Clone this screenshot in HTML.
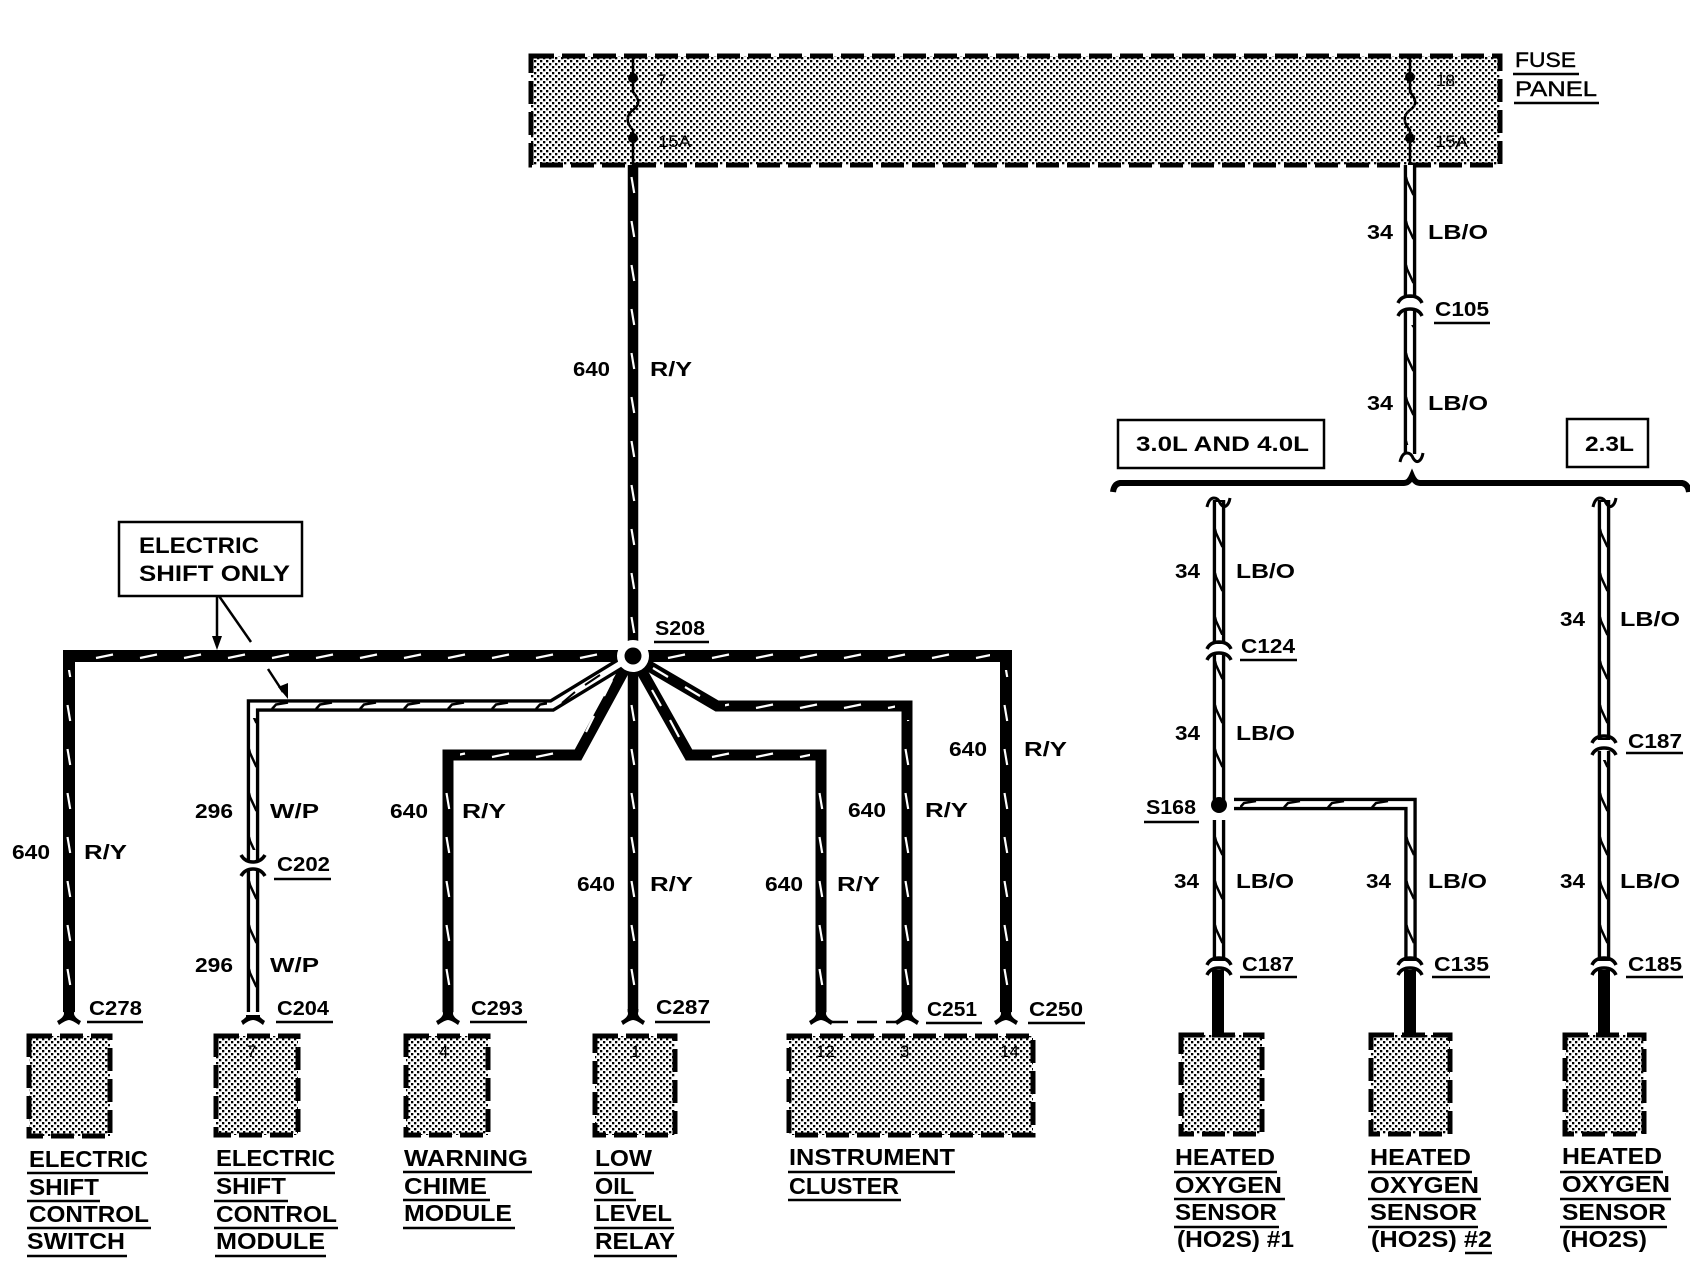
<!DOCTYPE html>
<html><head><meta charset="utf-8"><style>
html,body{margin:0;padding:0;background:#fff}
svg{display:block}
text{font-family:"Liberation Sans",sans-serif;fill:#000}
.l{font-size:23px;font-weight:bold}
.w{font-size:20px;font-weight:bold}
.f{font-size:21px;stroke:#000;stroke-width:.4}
.p{font-size:17px;fill:#222}
.b{fill:none;stroke:#000;stroke-linejoin:miter}
.bw{fill:none;stroke:#fff;stroke-linejoin:miter}
</style></head><body>
<svg width="1690" height="1264" viewBox="0 0 1690 1264" xmlns="http://www.w3.org/2000/svg">
<defs>
<pattern id="dots" width="6" height="6" patternUnits="userSpaceOnUse"><rect width="6" height="6" fill="#fff"/><rect width="2.3" height="2.3" fill="#000"/><rect x="3" y="3" width="2.3" height="2.3" fill="#000"/></pattern>
<pattern id="vb" x="-6" y="0" width="12" height="44" patternUnits="userSpaceOnUse"><line x1="4.5" y1="1" x2="7.2" y2="17" stroke="#fff" stroke-width="2.2"/></pattern>
<pattern id="vd" x="-6" y="0" width="12" height="44" patternUnits="userSpaceOnUse"><path d="M2,1 L3,5 L9.5,19" stroke="#000" stroke-width="2.5" fill="none"/></pattern>
<pattern id="hb" x="0" y="-6" width="44" height="12" patternUnits="userSpaceOnUse"><line x1="8" y1="8" x2="25" y2="4.5" stroke="#fff" stroke-width="2.2"/></pattern>
<pattern id="hd" x="0" y="-6" width="44" height="12" patternUnits="userSpaceOnUse"><path d="M8,9.5 L12,5 L24,3" stroke="#000" stroke-width="2.5" fill="none"/></pattern>
<path id="fork" d="M-5.5,-8 L-5,-3 Q-6,1 -12,4 L-10,8 Q-3,3 0,3 Q3,3 10,8 L12,4 Q6,1 5,-3 L5.5,-8Z" fill="#000"/>
<path id="arc" d="M-12,5 Q-9,-2 0,-2 Q9,-2 12,5" fill="none" stroke="#000" stroke-width="3.5"/>
<path id="tilde" d="M-11,9 Q-9,0 -4,0 Q0,0 2,5 Q5,10 8,8 Q11,6 12,0" fill="none" stroke="#000" stroke-width="3"/>
</defs>

<!-- shaded boxes -->
<g fill="url(#dots)" stroke="#000" stroke-width="5" stroke-dasharray="23 8">
<rect x="531" y="56" width="969" height="109"/>
<rect x="29" y="1036" width="81" height="100"/>
<rect x="216" y="1036" width="82" height="99"/>
<rect x="406" y="1036" width="82" height="99"/>
<rect x="595" y="1036" width="80" height="99"/>
<rect x="789" y="1036" width="244" height="99"/>
<rect x="1181" y="1035" width="81" height="99"/>
<rect x="1371" y="1035" width="79" height="99"/>
<rect x="1565" y="1035" width="79" height="99"/>
</g>

<!-- fuses -->
<g class="b" stroke-width="2.5">
<path d="M633,54 V92 C640,100 640,105 633,110 C626,115 626,123 633,130 V167"/>
<path d="M1410,54 V92 C1417,100 1417,105 1410,110 C1403,115 1403,123 1410,130 V167"/>
</g>
<g fill="#000"><circle cx="633" cy="78" r="5"/><circle cx="633" cy="138" r="5"/><circle cx="1410" cy="77" r="5"/><circle cx="1410" cy="138" r="5"/></g>
<g class="p">
<text x="657" y="86">7</text><text x="658" y="147" textLength="33" lengthAdjust="spacingAndGlyphs">15A</text>
<text x="1436" y="86" textLength="19" lengthAdjust="spacingAndGlyphs">18</text><text x="1435" y="147" textLength="33" lengthAdjust="spacingAndGlyphs">15A</text>
<text x="247" y="1057">7</text><text x="439" y="1057">4</text><text x="631" y="1057">1</text>
<text x="816" y="1057">12</text><text x="900" y="1057">3</text><text x="1000" y="1057">14</text>
</g>

<!-- black wires -->
<g class="b" stroke-width="12">
<path d="M69,1012 V656 H625"/>
<path d="M640,656 H1006 V1012" />
<path d="M448,1012 V755 H578 L627,665" stroke-width="11"/>
<path d="M633,165 V1012" stroke-width="10.5"/>
<path d="M821,1012 V755 H689 L640,668" stroke-width="11"/>
<path d="M907,1012 V706 H717 L642,662" stroke-width="11"/>
<path d="M1218,970 V1034"/><path d="M1410,970 V1034"/><path d="M1604,970 V1034"/>
</g>
<!-- diagonal ticks -->
<g fill="none" stroke="#fff" stroke-width="2.2">
<path d="M586,732 L594,716 M604,696 L612,680"/>
<path d="M679,737 L670,720 M661,706 L652,690"/>
<path d="M700,696 L685,687 M668,677 L653,668"/>
</g>
<!-- double wires -->
<g class="b" stroke-width="12.5">
<path d="M253,1012 V705.5 H552 L620,664"/>
<path d="M1410,165 V298 M1410,311 V454"/>
<path d="M1219,500 V644 M1219,655 V800 M1219,820 V961"/>
<path d="M1604,500 V740 M1604,751 V961"/>
<path d="M1234,804 H1410.5 V961"/>
</g>
<path d="M253,860 V870" stroke="#fff" stroke-width="14"/>
<g class="bw" stroke-width="5.8">
<path d="M253,1014 V705.5 H552 L620,664"/>
<path d="M1410,165 V296 M1410,311 V456"/>
<path d="M1219,502 V642 M1219,655 V800 M1219,820 V959"/>
<path d="M1604,502 V738 M1604,751 V959"/>
<path d="M1230,804 H1410.5 V959"/>
</g>
<path d="M253,862 V868" stroke="#fff" stroke-width="14"/>
<path d="M562,703 L575,692 M585,685 L600,675" stroke="#000" stroke-width="2" fill="none"/>

<!-- tick overlays: vertical black -->
<g fill="url(#vb)">
<rect transform="translate(633,0)" x="-5" y="170" width="10" height="465"/>
<rect transform="translate(633,0)" x="-5" y="685" width="10" height="320"/>
<rect transform="translate(69,0)" x="-5" y="670" width="10" height="335"/>
<rect transform="translate(448,0)" x="-5" y="770" width="10" height="235"/>
<rect transform="translate(821,0)" x="-5" y="770" width="10" height="235"/>
<rect transform="translate(907,0)" x="-5" y="720" width="10" height="285"/>
<rect transform="translate(1006,0)" x="-5" y="670" width="10" height="335"/>
</g>
<!-- tick overlays: vertical double -->
<g fill="url(#vd)">
<rect transform="translate(253,0)" x="-5" y="718" width="10" height="132"/>
<rect transform="translate(253,0)" x="-5" y="880" width="10" height="120"/>
<rect transform="translate(1410,0)" x="-5" y="170" width="10" height="120"/>
<rect transform="translate(1410,0)" x="-5" y="325" width="10" height="120"/>
<rect transform="translate(1219,0)" x="-5" y="510" width="10" height="125"/>
<rect transform="translate(1219,0)" x="-5" y="660" width="10" height="130"/>
<rect transform="translate(1219,0)" x="-5" y="825" width="10" height="125"/>
<rect transform="translate(1410.5,0)" x="-5" y="825" width="10" height="125"/>
<rect transform="translate(1604,0)" x="-5" y="510" width="10" height="220"/>
<rect transform="translate(1604,0)" x="-5" y="760" width="10" height="190"/>
</g>
<!-- tick overlays: horizontal -->
<g fill="url(#hb)">
<rect transform="translate(0,656)" x="90" y="-5" width="520" height="10"/>
<rect transform="translate(0,656)" x="660" y="-5" width="330" height="10"/>
<rect transform="translate(0,755)" x="460" y="-5" width="115" height="10"/>
<rect transform="translate(0,755)" x="695" y="-5" width="115" height="10"/>
<rect transform="translate(0,706)" x="725" y="-5" width="170" height="10"/>
</g>
<g fill="url(#hd)">
<rect transform="translate(0,705.5)" x="262" y="-5" width="285" height="10"/>
<rect transform="translate(0,804)" x="1240" y="-5" width="160" height="10"/>
</g>

<!-- hub + splice -->
<circle cx="633" cy="656" r="16" fill="#fff"/><circle cx="633" cy="656" r="8.5" fill="#000"/>
<circle cx="1219" cy="805" r="8" fill="#000"/>

<!-- forks -->
<use href="#fork" x="69" y="1017"/><use href="#fork" x="448" y="1017"/><use href="#fork" x="633" y="1017"/>
<use href="#fork" x="821" y="1017"/><use href="#fork" x="907" y="1017"/><use href="#fork" x="1006" y="1017"/>
<path d="M246,1015 H260 V1017 Q262,1019 265,1021 L263,1025 Q257,1020 253,1020 Q249,1020 243,1025 L241,1021 Q244,1019 246,1017Z" fill="#000"/>
<path d="M828,1022 H900" stroke="#000" stroke-width="2.5" stroke-dasharray="20 9" fill="none"/>

<!-- connectors -->
<use href="#arc" x="1410" y="298"/><use href="#arc" x="1410" y="311"/>
<use href="#arc" x="1219" y="644"/><use href="#arc" x="1219" y="655"/>
<use href="#arc" x="1604" y="738"/><use href="#arc" x="1604" y="750"/>
<path d="M241,855 Q245,862 253,862 Q261,862 265,855 M241,876 Q245,869 253,869 Q261,869 265,876" fill="none" stroke="#000" stroke-width="3.5"/>
<use href="#arc" x="1219" y="960"/><use href="#arc" x="1219" y="970"/>
<use href="#arc" x="1410" y="960"/><use href="#arc" x="1410" y="970"/>
<use href="#arc" x="1604" y="960"/><use href="#arc" x="1604" y="970"/>
<use href="#tilde" x="1411" y="453"/><use href="#tilde" x="1218" y="498"/><use href="#tilde" x="1604" y="498"/>

<!-- brace -->
<path d="M1113,492 Q1114,484 1120,483 H1404 Q1409,483 1412,476 Q1415,483 1420,483 H1682 Q1688,484 1689,492" fill="none" stroke="#000" stroke-width="6"/>

<!-- callout boxes -->
<g fill="#fff" stroke="#000" stroke-width="2.5">
<rect x="119" y="522" width="183" height="74"/>
<rect x="1118" y="420" width="206" height="48"/>
<rect x="1567" y="419" width="81" height="48"/>
</g>
<g fill="none" stroke="#000" stroke-width="2.5">
<path d="M217,596 V640"/><path d="M219,596 L251,642"/><path d="M268,669 L283,692"/>
</g>
<path d="M212,636 H222 L217,650Z M278,687 L288,683 L288,699Z" fill="#000"/>

<!-- text: callouts -->
<g class="l" style="font-size:22px">
<text x="139" y="553" textLength="120" lengthAdjust="spacingAndGlyphs">ELECTRIC</text>
<text x="139" y="581" textLength="151" lengthAdjust="spacingAndGlyphs">SHIFT ONLY</text>
</g>
<g class="w" style="font-size:21px">
<text x="1136" y="451" textLength="173" lengthAdjust="spacingAndGlyphs">3.0L AND 4.0L</text>
<text x="1585" y="451" textLength="49" lengthAdjust="spacingAndGlyphs">2.3L</text>
</g>
<g class="f">
<text x="1515" y="67" textLength="61" lengthAdjust="spacingAndGlyphs">FUSE</text>
<text x="1515" y="96" textLength="82" lengthAdjust="spacingAndGlyphs">PANEL</text>
</g>

<!-- text: wire labels -->
<g class="w">
<text x="573" y="376" textLength="37" lengthAdjust="spacingAndGlyphs">640</text><text x="650" y="376" textLength="42" lengthAdjust="spacingAndGlyphs">R/Y</text>
<text x="12" y="859" textLength="38" lengthAdjust="spacingAndGlyphs">640</text><text x="84" y="859" textLength="43" lengthAdjust="spacingAndGlyphs">R/Y</text>
<text x="195" y="818" textLength="38" lengthAdjust="spacingAndGlyphs">296</text><text x="270" y="818" textLength="49" lengthAdjust="spacingAndGlyphs">W/P</text>
<text x="195" y="972" textLength="38" lengthAdjust="spacingAndGlyphs">296</text><text x="270" y="972" textLength="49" lengthAdjust="spacingAndGlyphs">W/P</text>
<text x="390" y="818" textLength="38" lengthAdjust="spacingAndGlyphs">640</text><text x="462" y="818" textLength="44" lengthAdjust="spacingAndGlyphs">R/Y</text>
<text x="577" y="891" textLength="38" lengthAdjust="spacingAndGlyphs">640</text><text x="650" y="891" textLength="43" lengthAdjust="spacingAndGlyphs">R/Y</text>
<text x="765" y="891" textLength="38" lengthAdjust="spacingAndGlyphs">640</text><text x="837" y="891" textLength="43" lengthAdjust="spacingAndGlyphs">R/Y</text>
<text x="848" y="817" textLength="38" lengthAdjust="spacingAndGlyphs">640</text><text x="925" y="817" textLength="43" lengthAdjust="spacingAndGlyphs">R/Y</text>
<text x="949" y="756" textLength="38" lengthAdjust="spacingAndGlyphs">640</text><text x="1024" y="756" textLength="43" lengthAdjust="spacingAndGlyphs">R/Y</text>

<text x="1367" y="239" textLength="26" lengthAdjust="spacingAndGlyphs">34</text><text x="1428" y="239" textLength="60" lengthAdjust="spacingAndGlyphs">LB/O</text>
<text x="1367" y="410" textLength="26" lengthAdjust="spacingAndGlyphs">34</text><text x="1428" y="410" textLength="60" lengthAdjust="spacingAndGlyphs">LB/O</text>
<text x="1175" y="578" textLength="25" lengthAdjust="spacingAndGlyphs">34</text><text x="1236" y="578" textLength="59" lengthAdjust="spacingAndGlyphs">LB/O</text>
<text x="1175" y="740" textLength="25" lengthAdjust="spacingAndGlyphs">34</text><text x="1236" y="740" textLength="59" lengthAdjust="spacingAndGlyphs">LB/O</text>
<text x="1174" y="888" textLength="25" lengthAdjust="spacingAndGlyphs">34</text><text x="1236" y="888" textLength="58" lengthAdjust="spacingAndGlyphs">LB/O</text>
<text x="1366" y="888" textLength="25" lengthAdjust="spacingAndGlyphs">34</text><text x="1428" y="888" textLength="59" lengthAdjust="spacingAndGlyphs">LB/O</text>
<text x="1560" y="626" textLength="25" lengthAdjust="spacingAndGlyphs">34</text><text x="1620" y="626" textLength="60" lengthAdjust="spacingAndGlyphs">LB/O</text>
<text x="1560" y="888" textLength="25" lengthAdjust="spacingAndGlyphs">34</text><text x="1620" y="888" textLength="60" lengthAdjust="spacingAndGlyphs">LB/O</text>

<!-- connector labels -->
<text x="655" y="635" textLength="50" lengthAdjust="spacingAndGlyphs">S208</text>
<text x="1146" y="814" textLength="50" lengthAdjust="spacingAndGlyphs">S168</text>
<text x="89" y="1015" textLength="53" lengthAdjust="spacingAndGlyphs">C278</text>
<text x="277" y="1015" textLength="52" lengthAdjust="spacingAndGlyphs">C204</text>
<text x="471" y="1015" textLength="52" lengthAdjust="spacingAndGlyphs">C293</text>
<text x="656" y="1014" textLength="54" lengthAdjust="spacingAndGlyphs">C287</text>
<text x="927" y="1016" textLength="50" lengthAdjust="spacingAndGlyphs">C251</text>
<text x="1029" y="1016" textLength="54" lengthAdjust="spacingAndGlyphs">C250</text>
<text x="277" y="871" textLength="53" lengthAdjust="spacingAndGlyphs">C202</text>
<text x="1435" y="316" textLength="54" lengthAdjust="spacingAndGlyphs">C105</text>
<text x="1241" y="653" textLength="54" lengthAdjust="spacingAndGlyphs">C124</text>
<text x="1628" y="748" textLength="54" lengthAdjust="spacingAndGlyphs">C187</text>
<text x="1242" y="971" textLength="52" lengthAdjust="spacingAndGlyphs">C187</text>
<text x="1434" y="971" textLength="55" lengthAdjust="spacingAndGlyphs">C135</text>
<text x="1628" y="971" textLength="54" lengthAdjust="spacingAndGlyphs">C185</text>
</g>

<!-- component labels -->
<g class="l">
<text x="29" y="1167" textLength="119" lengthAdjust="spacingAndGlyphs">ELECTRIC</text>
<text x="29" y="1195" textLength="70" lengthAdjust="spacingAndGlyphs">SHIFT</text>
<text x="29" y="1222" textLength="120" lengthAdjust="spacingAndGlyphs">CONTROL</text>
<text x="27" y="1249" textLength="98" lengthAdjust="spacingAndGlyphs">SWITCH</text>

<text x="216" y="1166" textLength="119" lengthAdjust="spacingAndGlyphs">ELECTRIC</text>
<text x="216" y="1194" textLength="70" lengthAdjust="spacingAndGlyphs">SHIFT</text>
<text x="216" y="1222" textLength="121" lengthAdjust="spacingAndGlyphs">CONTROL</text>
<text x="216" y="1249" textLength="109" lengthAdjust="spacingAndGlyphs">MODULE</text>

<text x="404" y="1166" textLength="124" lengthAdjust="spacingAndGlyphs">WARNING</text>
<text x="404" y="1194" textLength="83" lengthAdjust="spacingAndGlyphs">CHIME</text>
<text x="404" y="1221" textLength="108" lengthAdjust="spacingAndGlyphs">MODULE</text>

<text x="595" y="1166" textLength="57" lengthAdjust="spacingAndGlyphs">LOW</text>
<text x="595" y="1194" textLength="39" lengthAdjust="spacingAndGlyphs">OIL</text>
<text x="595" y="1221" textLength="77" lengthAdjust="spacingAndGlyphs">LEVEL</text>
<text x="595" y="1249" textLength="80" lengthAdjust="spacingAndGlyphs">RELAY</text>

<text x="789" y="1165" textLength="166" lengthAdjust="spacingAndGlyphs">INSTRUMENT</text>
<text x="789" y="1194" textLength="110" lengthAdjust="spacingAndGlyphs">CLUSTER</text>

<text x="1175" y="1165" textLength="100" lengthAdjust="spacingAndGlyphs">HEATED</text>
<text x="1175" y="1193" textLength="107" lengthAdjust="spacingAndGlyphs">OXYGEN</text>
<text x="1175" y="1220" textLength="102" lengthAdjust="spacingAndGlyphs">SENSOR</text>
<text x="1177" y="1247" textLength="117" lengthAdjust="spacingAndGlyphs">(HO2S)  #1</text>

<text x="1370" y="1165" textLength="101" lengthAdjust="spacingAndGlyphs">HEATED</text>
<text x="1370" y="1193" textLength="109" lengthAdjust="spacingAndGlyphs">OXYGEN</text>
<text x="1370" y="1220" textLength="107" lengthAdjust="spacingAndGlyphs">SENSOR</text>
<text x="1371" y="1247" textLength="121" lengthAdjust="spacingAndGlyphs">(HO2S)  #2</text>

<text x="1562" y="1164" textLength="100" lengthAdjust="spacingAndGlyphs">HEATED</text>
<text x="1562" y="1192" textLength="108" lengthAdjust="spacingAndGlyphs">OXYGEN</text>
<text x="1562" y="1220" textLength="104" lengthAdjust="spacingAndGlyphs">SENSOR</text>
<text x="1562" y="1247" textLength="85" lengthAdjust="spacingAndGlyphs">(HO2S)</text>
</g>

<!-- underlines -->
<path fill="none" stroke="#000" stroke-width="2.5" d="
M1513,74H1579 M1514,103H1599
M654,642H709 M1144,822H1199
M87,1022H143 M276,1022H333 M470,1022H527 M655,1022H710 M926,1023H982 M1028,1023H1085
M274,879H331 M1434,323H1490 M1240,660H1297 M1626,753H1683 M1240,977H1297 M1432,977H1490 M1626,977H1683
M27,1173H148 M27,1201H100 M27,1228H151 M27,1256H127
M214,1173H335 M214,1201H288 M214,1228H338 M215,1256H326
M403,1172H532 M403,1200H490 M403,1228H515
M594,1173H654 M594,1200H636 M594,1228H674 M594,1256H677
M788,1172H955 M788,1200H901
M1174,1172H1277 M1174,1199H1285 M1174,1227H1279
M1368,1172H1472 M1368,1199H1481 M1368,1227H1478 M1465,1253H1492
M1560,1172H1663 M1560,1199H1671 M1560,1227H1667
"/>
</svg>
</body></html>
